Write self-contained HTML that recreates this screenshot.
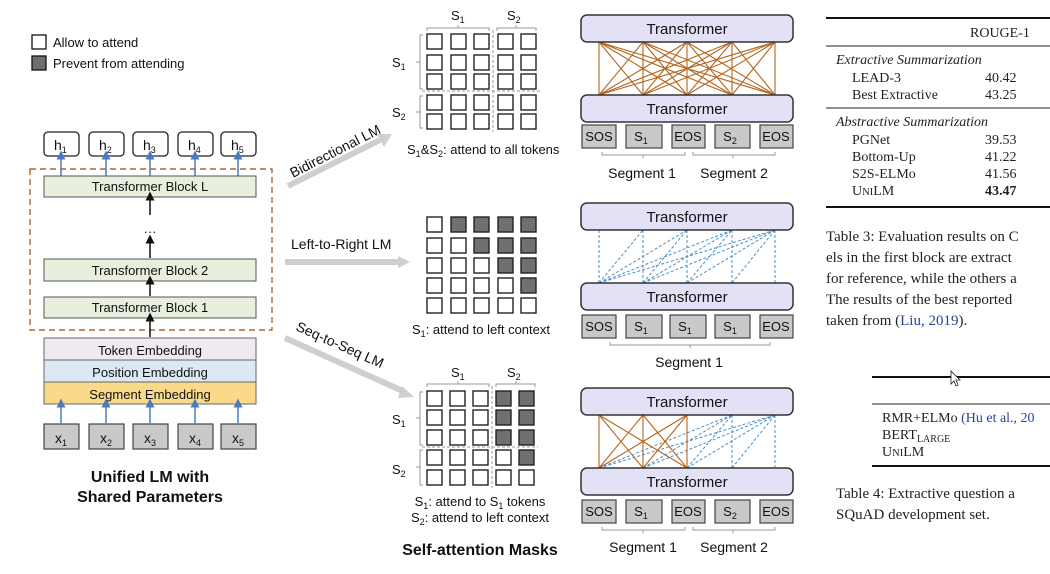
<!DOCTYPE html>
<html><head><meta charset="utf-8"><style>
body{margin:0;background:#fff;}
svg{display:block;}
.s{font-family:"Liberation Sans",sans-serif;}
.r{font-family:"Liberation Serif",serif;fill:#222;}
</style></head><body>
<svg width="1050" height="574" viewBox="0 0 1050 574" xmlns="http://www.w3.org/2000/svg">
<defs>
<marker id="ab" markerWidth="6" markerHeight="6" refX="3" refY="5" viewBox="0 0 6 6"><path d="M0,6 L3,0 L6,6z" fill="#4a7abf"/></marker>
<marker id="ak" markerWidth="6" markerHeight="6" refX="3" refY="5" viewBox="0 0 6 6"><path d="M0,6 L3,0 L6,6z" fill="#111"/></marker>
</defs>
<g class="s" font-size="13" fill="#111">
<!-- legend -->
<rect x="32" y="35" width="14" height="14" fill="#fff" stroke="#111" stroke-width="1.3"/>
<text x="53" y="47">Allow to attend</text>
<rect x="32" y="56" width="14" height="14" fill="#6e6e6e" stroke="#111" stroke-width="1.3"/>
<text x="53" y="68">Prevent from attending</text>
<!-- h boxes -->
<g fill="#fff" stroke="#222" stroke-width="1.3">
<rect x="44" y="132" width="35" height="24" rx="4"/><rect x="89" y="132" width="35" height="24" rx="4"/><rect x="133" y="132" width="35" height="24" rx="4"/><rect x="178" y="132" width="35" height="24" rx="4"/><rect x="221" y="132" width="35" height="24" rx="4"/>
</g>
<g font-size="14"><text x="54" y="150">h<tspan font-size="9" dy="3">1</tspan></text><text x="99" y="150">h<tspan font-size="9" dy="3">2</tspan></text><text x="143" y="150">h<tspan font-size="9" dy="3">3</tspan></text><text x="188" y="150">h<tspan font-size="9" dy="3">4</tspan></text><text x="231" y="150">h<tspan font-size="9" dy="3">5</tspan></text></g>
<g stroke="#4a7abf" stroke-width="1.5" marker-end="url(#ab)"><line x1="61" y1="176" x2="61" y2="158"/><line x1="106" y1="176" x2="106" y2="158"/><line x1="150" y1="176" x2="150" y2="158"/><line x1="195" y1="176" x2="195" y2="158"/><line x1="238" y1="176" x2="238" y2="158"/></g>
<rect x="30" y="169" width="242" height="161" fill="none" stroke="#a8663a" stroke-width="1.4" stroke-dasharray="6,4"/>
<g stroke="#555" stroke-width="1" fill="#e8efdc">
<rect x="44" y="176" width="212" height="21"/><rect x="44" y="259" width="212" height="22"/><rect x="44" y="297" width="212" height="21"/>
</g>
<text x="150" y="191" text-anchor="middle">Transformer Block L</text>
<text x="150" y="275" text-anchor="middle">Transformer Block 2</text>
<text x="150" y="312" text-anchor="middle">Transformer Block 1</text>
<text x="150" y="236" text-anchor="middle">···</text>
<g stroke="#111" stroke-width="1.5" marker-end="url(#ak)"><line x1="150" y1="215" x2="150" y2="199"/><line x1="150" y1="258" x2="150" y2="242"/><line x1="150" y1="296" x2="150" y2="283"/><line x1="150" y1="337" x2="150" y2="320"/></g>
<rect x="44" y="338" width="212" height="22" fill="#efe9f1" stroke="#666"/>
<rect x="44" y="360" width="212" height="22" fill="#dce8f5" stroke="#666"/>
<rect x="44" y="382" width="212" height="22" fill="#f8da88" stroke="#666"/>
<text x="150" y="355" text-anchor="middle">Token Embedding</text>
<text x="150" y="377" text-anchor="middle">Position Embedding</text>
<text x="150" y="399" text-anchor="middle">Segment Embedding</text>
<g stroke="#4a7abf" stroke-width="1.5" marker-end="url(#ab)"><line x1="61" y1="423" x2="61" y2="406"/><line x1="106" y1="423" x2="106" y2="406"/><line x1="150" y1="423" x2="150" y2="406"/><line x1="195" y1="423" x2="195" y2="406"/><line x1="238" y1="423" x2="238" y2="406"/></g>
<g fill="#c9c9c9" stroke="#444" stroke-width="1.2">
<rect x="44" y="424" width="35" height="25"/><rect x="89" y="424" width="35" height="25"/><rect x="133" y="424" width="35" height="25"/><rect x="178" y="424" width="35" height="25"/><rect x="221" y="424" width="35" height="25"/>
</g>
<g font-size="14"><text x="55" y="443">x<tspan font-size="9" dy="3">1</tspan></text><text x="100" y="443">x<tspan font-size="9" dy="3">2</tspan></text><text x="144" y="443">x<tspan font-size="9" dy="3">3</tspan></text><text x="189" y="443">x<tspan font-size="9" dy="3">4</tspan></text><text x="232" y="443">x<tspan font-size="9" dy="3">5</tspan></text></g>
<text x="150" y="482" text-anchor="middle" font-weight="bold" font-size="16">Unified LM with</text>
<text x="150" y="502" text-anchor="middle" font-weight="bold" font-size="16">Shared Parameters</text>

<!-- gray arrows -->
<g stroke="#cfcfcf" stroke-width="6" fill="#cfcfcf">
<line x1="288" y1="186" x2="380" y2="140"/><line x1="285" y1="262" x2="400" y2="262"/><line x1="285" y1="338" x2="405" y2="392"/>
</g>
<path d="M377,134 L392,134 L384,147z" fill="#cfcfcf"/>
<path d="M398,256 L410,262 L398,268z" fill="#cfcfcf"/>
<path d="M402,386 L414,397 L398,398z" fill="#cfcfcf"/>
<text transform="translate(293,178) rotate(-27)" font-size="14">Bidirectional LM</text>
<text x="291" y="249" font-size="14">Left-to-Right LM</text>
<text transform="translate(295,330) rotate(24)" font-size="14">Seq-to-Seq LM</text>

<!-- grid 1 -->
<g fill="#fff" stroke="#222" stroke-width="1.4">
<rect x="427" y="34" width="15" height="15"/><rect x="451" y="34" width="15" height="15"/><rect x="474" y="34" width="15" height="15"/><rect x="498" y="34" width="15" height="15"/><rect x="521" y="34" width="15" height="15"/>
<rect x="427" y="55" width="15" height="15"/><rect x="451" y="55" width="15" height="15"/><rect x="474" y="55" width="15" height="15"/><rect x="498" y="55" width="15" height="15"/><rect x="521" y="55" width="15" height="15"/>
<rect x="427" y="74" width="15" height="15"/><rect x="451" y="74" width="15" height="15"/><rect x="474" y="74" width="15" height="15"/><rect x="498" y="74" width="15" height="15"/><rect x="521" y="74" width="15" height="15"/>
<rect x="427" y="95" width="15" height="15"/><rect x="451" y="95" width="15" height="15"/><rect x="474" y="95" width="15" height="15"/><rect x="498" y="95" width="15" height="15"/><rect x="521" y="95" width="15" height="15"/>
<rect x="427" y="114" width="15" height="15"/><rect x="451" y="114" width="15" height="15"/><rect x="474" y="114" width="15" height="15"/><rect x="498" y="114" width="15" height="15"/><rect x="521" y="114" width="15" height="15"/>
</g>
<g stroke="#999" fill="none" stroke-width="1">
<line x1="493" y1="30" x2="493" y2="132" stroke-dasharray="3,2"/><line x1="422" y1="91" x2="540" y2="91" stroke-dasharray="3,2"/>
<path d="M427,31 V28 H489 V31 M458,28 V25 M497,31 V28 H536 V31 M516,28 V25"/>
<path d="M423,35 H420 V89 H423 M420,62 H416 M423,96 H420 V128 H423 M420,112 H416"/>
</g>
<text x="451" y="20">S<tspan font-size="9" dy="3">1</tspan></text><text x="507" y="20">S<tspan font-size="9" dy="3">2</tspan></text>
<text x="392" y="67">S<tspan font-size="9" dy="3">1</tspan></text><text x="392" y="117">S<tspan font-size="9" dy="3">2</tspan></text>
<text x="407" y="154">S<tspan font-size="9" dy="3">1</tspan><tspan dy="-3">&amp;S</tspan><tspan font-size="9" dy="3">2</tspan><tspan dy="-3">: attend to all tokens</tspan></text>

<!-- grid 2 -->
<g stroke="#222" stroke-width="1.4">
<g fill="#fff"><rect x="427" y="217" width="15" height="15"/><rect x="427" y="238" width="15" height="15"/><rect x="451" y="238" width="15" height="15"/><rect x="427" y="258" width="15" height="15"/><rect x="451" y="258" width="15" height="15"/><rect x="474" y="258" width="15" height="15"/><rect x="427" y="278" width="15" height="15"/><rect x="451" y="278" width="15" height="15"/><rect x="474" y="278" width="15" height="15"/><rect x="498" y="278" width="15" height="15"/><rect x="427" y="298" width="15" height="15"/><rect x="451" y="298" width="15" height="15"/><rect x="474" y="298" width="15" height="15"/><rect x="498" y="298" width="15" height="15"/><rect x="521" y="298" width="15" height="15"/></g>
<g fill="#707070"><rect x="451" y="217" width="15" height="15"/><rect x="474" y="217" width="15" height="15"/><rect x="498" y="217" width="15" height="15"/><rect x="521" y="217" width="15" height="15"/><rect x="474" y="238" width="15" height="15"/><rect x="498" y="238" width="15" height="15"/><rect x="521" y="238" width="15" height="15"/><rect x="498" y="258" width="15" height="15"/><rect x="521" y="258" width="15" height="15"/><rect x="521" y="278" width="15" height="15"/></g>
</g>
<text x="412" y="334">S<tspan font-size="9" dy="3">1</tspan><tspan dy="-3">: attend to left context</tspan></text>

<!-- grid 3 -->
<g stroke="#222" stroke-width="1.4">
<g fill="#fff"><rect x="427" y="391" width="15" height="15"/><rect x="450" y="391" width="15" height="15"/><rect x="473" y="391" width="15" height="15"/><rect x="427" y="410" width="15" height="15"/><rect x="450" y="410" width="15" height="15"/><rect x="473" y="410" width="15" height="15"/><rect x="427" y="430" width="15" height="15"/><rect x="450" y="430" width="15" height="15"/><rect x="473" y="430" width="15" height="15"/><rect x="427" y="450" width="15" height="15"/><rect x="450" y="450" width="15" height="15"/><rect x="473" y="450" width="15" height="15"/><rect x="496" y="450" width="15" height="15"/><rect x="427" y="470" width="15" height="15"/><rect x="450" y="470" width="15" height="15"/><rect x="473" y="470" width="15" height="15"/><rect x="496" y="470" width="15" height="15"/><rect x="519" y="470" width="15" height="15"/></g>
<g fill="#707070"><rect x="496" y="391" width="15" height="15"/><rect x="519" y="391" width="15" height="15"/><rect x="496" y="410" width="15" height="15"/><rect x="519" y="410" width="15" height="15"/><rect x="496" y="430" width="15" height="15"/><rect x="519" y="430" width="15" height="15"/><rect x="519" y="450" width="15" height="15"/></g>
</g>
<g stroke="#999" fill="none" stroke-width="1">
<line x1="492" y1="386" x2="492" y2="488" stroke-dasharray="3,2"/><line x1="422" y1="447" x2="538" y2="447" stroke-dasharray="3,2"/>
<path d="M427,387 V384 H489 V387 M458,384 V381 M496,387 V384 H535 V387 M516,384 V381"/>
<path d="M423,392 H420 V445 H423 M420,418 H416 M423,450 H420 V485 H423 M420,467 H416"/>
</g>
<text x="451" y="377">S<tspan font-size="9" dy="3">1</tspan></text><text x="507" y="377">S<tspan font-size="9" dy="3">2</tspan></text>
<text x="392" y="424">S<tspan font-size="9" dy="3">1</tspan></text><text x="392" y="474">S<tspan font-size="9" dy="3">2</tspan></text>
<text x="480" y="506" text-anchor="middle">S<tspan font-size="9" dy="3">1</tspan><tspan dy="-3">: attend to S</tspan><tspan font-size="9" dy="3">1</tspan><tspan dy="-3"> tokens</tspan></text>
<text x="480" y="522" text-anchor="middle">S<tspan font-size="9" dy="3">2</tspan><tspan dy="-3">: attend to left context</tspan></text>
<text x="480" y="555" text-anchor="middle" font-weight="bold" font-size="16">Self-attention Masks</text>

<!-- transformer panel 1 -->
<g stroke="#b5651d" stroke-width="1.1">
<line x1="599" y1="95" x2="599" y2="42"/><line x1="599" y1="95" x2="643" y2="42"/><line x1="599" y1="95" x2="687" y2="42"/><line x1="599" y1="95" x2="732" y2="42"/><line x1="599" y1="95" x2="775" y2="42"/>
<line x1="643" y1="95" x2="599" y2="42"/><line x1="643" y1="95" x2="643" y2="42"/><line x1="643" y1="95" x2="687" y2="42"/><line x1="643" y1="95" x2="732" y2="42"/><line x1="643" y1="95" x2="775" y2="42"/>
<line x1="687" y1="95" x2="599" y2="42"/><line x1="687" y1="95" x2="643" y2="42"/><line x1="687" y1="95" x2="687" y2="42"/><line x1="687" y1="95" x2="732" y2="42"/><line x1="687" y1="95" x2="775" y2="42"/>
<line x1="732" y1="95" x2="599" y2="42"/><line x1="732" y1="95" x2="643" y2="42"/><line x1="732" y1="95" x2="687" y2="42"/><line x1="732" y1="95" x2="732" y2="42"/><line x1="732" y1="95" x2="775" y2="42"/>
<line x1="775" y1="95" x2="599" y2="42"/><line x1="775" y1="95" x2="643" y2="42"/><line x1="775" y1="95" x2="687" y2="42"/><line x1="775" y1="95" x2="732" y2="42"/><line x1="775" y1="95" x2="775" y2="42"/>
</g>
<!-- panel 2 -->
<g stroke="#4a90c8" stroke-width="1" stroke-dasharray="3,2">
<line x1="599" y1="283" x2="599" y2="230"/><line x1="599" y1="283" x2="643" y2="230"/><line x1="599" y1="283" x2="687" y2="230"/><line x1="599" y1="283" x2="732" y2="230"/><line x1="599" y1="283" x2="775" y2="230"/>
<line x1="643" y1="283" x2="643" y2="230"/><line x1="643" y1="283" x2="687" y2="230"/><line x1="643" y1="283" x2="732" y2="230"/><line x1="643" y1="283" x2="775" y2="230"/>
<line x1="687" y1="283" x2="687" y2="230"/><line x1="687" y1="283" x2="732" y2="230"/><line x1="687" y1="283" x2="775" y2="230"/>
<line x1="732" y1="283" x2="732" y2="230"/><line x1="732" y1="283" x2="775" y2="230"/>
<line x1="775" y1="283" x2="775" y2="230"/>
</g>
<!-- panel 3 -->
<g stroke="#4a90c8" stroke-width="1" stroke-dasharray="3,2">
<line x1="599" y1="468" x2="732" y2="415"/><line x1="643" y1="468" x2="732" y2="415"/><line x1="687" y1="468" x2="732" y2="415"/><line x1="732" y1="468" x2="732" y2="415"/>
<line x1="599" y1="468" x2="775" y2="415"/><line x1="643" y1="468" x2="775" y2="415"/><line x1="687" y1="468" x2="775" y2="415"/><line x1="732" y1="468" x2="775" y2="415"/><line x1="775" y1="468" x2="775" y2="415"/>
</g>
<g stroke="#b5651d" stroke-width="1.1">
<line x1="599" y1="468" x2="599" y2="415"/><line x1="599" y1="468" x2="643" y2="415"/><line x1="599" y1="468" x2="687" y2="415"/>
<line x1="643" y1="468" x2="599" y2="415"/><line x1="643" y1="468" x2="643" y2="415"/><line x1="643" y1="468" x2="687" y2="415"/>
<line x1="687" y1="468" x2="599" y2="415"/><line x1="687" y1="468" x2="643" y2="415"/><line x1="687" y1="468" x2="687" y2="415"/>
</g>
<g fill="#e3e1f5" stroke="#333" stroke-width="1.5">
<rect x="581" y="15" width="212" height="27" rx="6"/><rect x="581" y="95" width="212" height="27" rx="6"/>
<rect x="581" y="203" width="212" height="27" rx="6"/><rect x="581" y="283" width="212" height="27" rx="6"/>
<rect x="581" y="388" width="212" height="27" rx="6"/><rect x="581" y="468" width="212" height="27" rx="6"/>
</g>
<g font-size="15" text-anchor="middle">
<text x="687" y="34">Transformer</text><text x="687" y="114">Transformer</text>
<text x="687" y="222">Transformer</text><text x="687" y="302">Transformer</text>
<text x="687" y="407">Transformer</text><text x="687" y="487">Transformer</text>
</g>
<g fill="#c9c9c9" stroke="#444" stroke-width="1.2">
<rect x="582" y="125" width="34" height="23"/><rect x="626" y="125" width="36" height="23"/><rect x="672" y="125" width="33" height="23"/><rect x="715" y="125" width="35" height="23"/><rect x="760" y="125" width="33" height="23"/>
<rect x="582" y="315" width="34" height="23"/><rect x="626" y="315" width="36" height="23"/><rect x="670" y="315" width="36" height="23"/><rect x="715" y="315" width="35" height="23"/><rect x="760" y="315" width="33" height="23"/>
<rect x="582" y="500" width="34" height="23"/><rect x="626" y="500" width="36" height="23"/><rect x="672" y="500" width="33" height="23"/><rect x="715" y="500" width="35" height="23"/><rect x="760" y="500" width="33" height="23"/>
</g>
<g text-anchor="middle" font-size="13">
<text x="599" y="141">SOS</text><text x="641" y="141">S<tspan font-size="9" dy="3">1</tspan></text><text x="688" y="141">EOS</text><text x="730" y="141">S<tspan font-size="9" dy="3">2</tspan></text><text x="776" y="141">EOS</text>
<text x="599" y="331">SOS</text><text x="641" y="331">S<tspan font-size="9" dy="3">1</tspan></text><text x="685" y="331">S<tspan font-size="9" dy="3">1</tspan></text><text x="730" y="331">S<tspan font-size="9" dy="3">1</tspan></text><text x="776" y="331">EOS</text>
<text x="599" y="516">SOS</text><text x="641" y="516">S<tspan font-size="9" dy="3">1</tspan></text><text x="688" y="516">EOS</text><text x="730" y="516">S<tspan font-size="9" dy="3">2</tspan></text><text x="776" y="516">EOS</text>
</g>
<g stroke="#999" fill="none">
<path d="M602,152 V155 H685 V152 M643,155 V158 M693,152 V155 H775 V152 M733,155 V158"/>
<path d="M610,342 V345 H770 V342 M690,345 V348"/>
<path d="M602,527 V530 H685 V527 M643,530 V533 M693,527 V530 H775 V527 M733,530 V533"/>
</g>
<g font-size="14" text-anchor="middle">
<text x="642" y="178">Segment 1</text><text x="734" y="178">Segment 2</text>
<text x="689" y="367">Segment 1</text>
<text x="643" y="552">Segment 1</text><text x="734" y="552">Segment 2</text>
</g>
</g>

<!-- tables -->
<g class="r" font-size="14">
<line x1="826" y1="18" x2="1050" y2="18" stroke="#111" stroke-width="2"/>
<text x="970" y="37">ROUGE-1</text>
<line x1="826" y1="46" x2="1050" y2="46" stroke="#222"/>
<text x="836" y="64" font-style="italic">Extractive Summarization</text>
<text x="852" y="82">LEAD-3</text><text x="985" y="82">40.42</text>
<text x="852" y="99">Best Extractive</text><text x="985" y="99">43.25</text>
<line x1="826" y1="108" x2="1050" y2="108" stroke="#222"/>
<text x="836" y="126" font-style="italic">Abstractive Summarization</text>
<text x="852" y="144">PGNet</text><text x="985" y="144">39.53</text>
<text x="852" y="161">Bottom-Up</text><text x="985" y="161">41.22</text>
<text x="852" y="178">S2S-ELMo</text><text x="985" y="178">41.56</text>
<text x="852" y="195">U<tspan font-size="10.5">NI</tspan>LM</text><text x="985" y="195" font-weight="bold">43.47</text>
<line x1="826" y1="207" x2="1050" y2="207" stroke="#111" stroke-width="2"/>
<g font-size="15">
<text x="826" y="241">Table 3: Evaluation results on C</text>
<text x="826" y="262">els in the first block are extract</text>
<text x="826" y="283">for reference, while the others a</text>
<text x="826" y="304">The results of the best reported</text>
<text x="826" y="325">taken from (<tspan fill="#2a3f9a">Liu, 2019</tspan>).</text>
</g>
<line x1="872" y1="377" x2="1050" y2="377" stroke="#111" stroke-width="2"/>
<path d="M951,371 v13 l3,-3 l2,5 l2,-1 l-2,-5 h4z" fill="#fff" stroke="#222" stroke-width="0.8"/>
<line x1="872" y1="404" x2="1050" y2="404" stroke="#222"/>
<text x="882" y="422">RMR+ELMo <tspan fill="#2a3f9a">(Hu et al., 20</tspan></text>
<text x="882" y="439">BERT<tspan font-size="10" dy="3">LARGE</tspan></text>
<text x="882" y="456">U<tspan font-size="10.5">NI</tspan>LM</text>
<line x1="872" y1="466" x2="1050" y2="466" stroke="#111" stroke-width="2"/>
<g font-size="15">
<text x="836" y="498">Table 4: Extractive question a</text>
<text x="836" y="519">SQuAD development set.</text>
</g>
</g>
</svg>
</body></html>
